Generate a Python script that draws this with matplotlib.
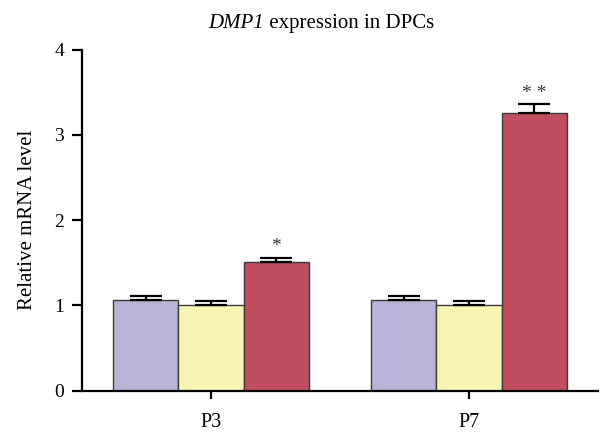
import matplotlib
matplotlib.use("Agg")
import matplotlib.pyplot as plt
import numpy as np

groups = ["P3", "P7"]
series_a = [1.065, 1.065]
series_b = [1.0, 1.0]
series_c = [1.505, 3.26]
err_a = [0.045, 0.045]
err_b = [0.05, 0.05]
err_c = [0.05, 0.10]
stars = ["*", "* *"]
colors = ["#b7b4d8", "#f7f4b4", "#c04e5e"]
yticks = [0, 1, 2, 3, 4]

plt.rcParams['font.family'] = ['Liberation Serif', 'DejaVu Serif']

fig = plt.figure(figsize=(6, 4.32), dpi=100)
ax = fig.add_axes([0.1367, 0.096, 0.86, 0.789])

x = np.arange(len(groups))
w = 0.253
vals = [series_a, series_b, series_c]
errs = [err_a, err_b, err_c]
for i, (v, e, c) in enumerate(zip(vals, errs, colors)):
    xpos = x + (i - 1) * w
    ax.bar(xpos, v, width=w, color=c, edgecolor="#3a3a3a", linewidth=1.0, zorder=2)
    ax.errorbar(xpos, v, yerr=[np.zeros(len(v)), e], fmt="none", ecolor="black",
                elinewidth=1.6, capsize=11.5, capthick=1.6, zorder=3)

for j in range(len(groups)):
    top = series_c[j] + err_c[j]
    ax.text(x[j] + w, top + 0.03, stars[j], ha="center", va="bottom", fontsize=14, color="#333333")

ax.set_xlim(-0.5, 1.5)
ax.set_ylim(0, 4)
ax.set_yticks(yticks)
ax.set_xticks(x)
ax.set_xticklabels(groups)
for s in ["top", "right"]:
    ax.spines[s].set_visible(False)
ax.spines["left"].set_linewidth(1.6)
ax.spines["bottom"].set_linewidth(1.6)
ax.tick_params(axis="y", length=7, width=1.6, labelsize=14, pad=6)
ax.tick_params(axis="x", length=6, width=1.6, labelsize=14.5, pad=10)
ax.set_ylabel("Relative mRNA level", fontsize=15, labelpad=12)

# title with italic gene name
W, H = fig.get_size_inches() * fig.dpi
ty = 1 - 28 / H
t1 = fig.text(0, ty, "DMP1", fontstyle="italic", fontsize=15, ha="left", va="baseline")
t2 = fig.text(0, ty, " expression in DPCs", fontsize=15, ha="left", va="baseline")
fig.canvas.draw()
r = fig.canvas.get_renderer()
w1 = t1.get_window_extent(r).width
w2 = t2.get_window_extent(r).width
cx = 321.5
x0 = cx - (w1 + w2) / 2
t1.set_x(x0 / W)
t2.set_x((x0 + w1) / W)

fig.savefig("out.png", dpi=100)
